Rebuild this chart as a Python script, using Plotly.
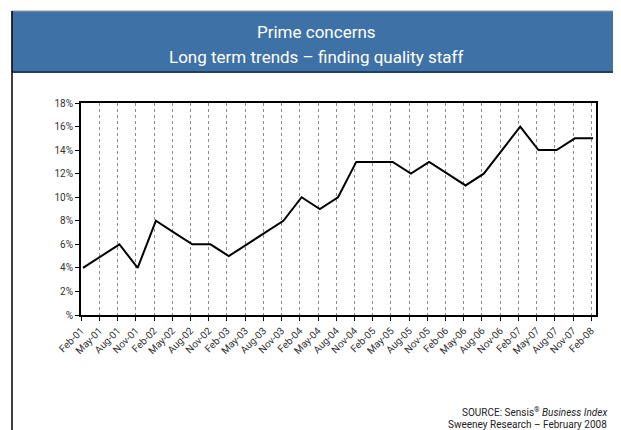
import plotly.graph_objects as go

categories = ["Feb-01","May-01","Aug-01","Nov-01","Feb-02","May-02","Aug-02","Nov-02",
              "Feb-03","May-03","Aug-03","Nov-03","Feb-04","May-04","Aug-04","Nov-04",
              "Feb-05","May-05","Aug-05","Nov-05","Feb-06","May-06","Aug-06","Nov-06",
              "Feb-07","May-07","Aug-07","Nov-07","Feb-08"]
values = [4, 5, 6, 4, 8, 7, 6, 6, 5, 6, 7, 8, 10, 9, 10, 13, 13, 13, 12, 13, 12, 11, 12, 14,
          16, 14, 14, 15, 15]
y_ticks = [0, 2, 4, 6, 8, 10, 12, 14, 16, 18]
y_labels = ["%"] + [f"{v}%" for v in y_ticks[1:]]

FONT = "Roboto, Liberation Sans, sans-serif"
idx = list(range(len(categories)))

fig = go.Figure()
fig.add_trace(go.Scatter(x=idx, y=values, mode="lines",
                         line=dict(color="black", width=2), hoverinfo="skip"))

OFF = 8  # page body margin
W, H = 621 - OFF, 430 - OFF
L, R, T = 81 - OFF, 25, 103 - OFF
B = H - (315 - OFF)
pw, ph = W - L - R, H - T - B

def px(x):
    return (x - OFF - L) / pw

def py(y):
    return (H - B - (y - OFF)) / ph

fig.update_layout(
    width=W, height=H,
    margin=dict(l=L, r=R, t=T, b=B),
    paper_bgcolor="white", plot_bgcolor="white",
    showlegend=False,
    font=dict(family=FONT, color="#333333", size=10),
    xaxis=dict(
        range=[-0.11, 28.16],
        tickmode="array",
        tickvals=[i - 0.1 for i in idx],
        ticktext=categories,
        tickangle=-45,
        ticks="outside", ticklen=4, tickcolor="black",
        showline=True, linecolor="black", linewidth=2, mirror=True,
        showgrid=True, gridcolor="#8c8c8c", griddash="dot", gridwidth=1,
        zeroline=False, automargin=False,
        tickfont=dict(size=10, color="#333333", family=FONT),
    ),
    yaxis=dict(
        range=[0, 18],
        tickmode="array", tickvals=y_ticks, ticktext=y_labels,
        ticks="outside", ticklen=4, tickcolor="black",
        showline=True, linecolor="black", linewidth=2, mirror=True,
        showgrid=False, zeroline=False, automargin=False,
        tickfont=dict(size=10, color="#333333", family=FONT),
    ),
    shapes=[
        dict(type="rect", xref="paper", yref="paper",
             x0=px(12), x1=px(640), y0=py(72), y1=py(11),
             fillcolor="#3E71A6", line=dict(color="#9a9a9a", width=1), layer="below"),
        dict(type="line", xref="paper", yref="paper",
             x0=px(12), x1=px(640), y0=py(72), y1=py(72),
             line=dict(color="#1f3f63", width=2)),
        dict(type="line", xref="paper", yref="paper",
             x0=px(12), x1=px(12), y0=py(11), y1=py(440),
             line=dict(color="black", width=1.5)),
    ],
    annotations=[
        dict(text="Prime concerns", xref="paper", yref="paper",
             x=px(316), y=py(32), xanchor="center", yanchor="middle", showarrow=False,
             font=dict(size=17, color="white", family=FONT)),
        dict(text="Long term trends \u2013 finding quality staff", xref="paper", yref="paper",
             x=px(316), y=py(57), xanchor="center", yanchor="middle", showarrow=False,
             font=dict(size=17, color="white", family=FONT)),
        dict(text="SOURCE: Sensis<sup>\u00ae</sup> <i>Business Index</i>", xref="paper", yref="paper",
             x=px(609), y=py(412), xanchor="right", yanchor="middle", showarrow=False,
             font=dict(size=10, color="#222222", family=FONT)),
        dict(text="Sweeney Research \u2013 February 2008", xref="paper", yref="paper",
             x=px(609), y=py(424), xanchor="right", yanchor="middle", showarrow=False,
             font=dict(size=10, color="#222222", family=FONT)),
    ],
)

fig.write_html("out.html")
